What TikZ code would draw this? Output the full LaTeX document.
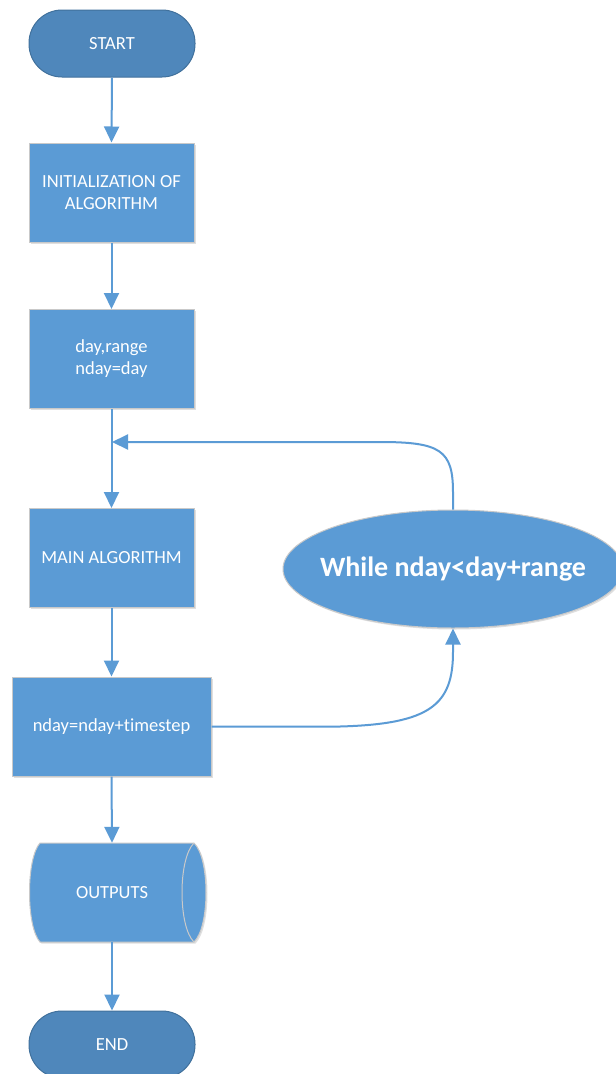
\documentclass[tikz,border=0pt]{standalone}
\usepackage{fontspec}
\setmainfont{Carlito}[Ligatures=NoCommon]
\usetikzlibrary{arrows.meta,shapes.geometric,shadows}
\definecolor{boxblue}{HTML}{5B9BD5}
\definecolor{termblue}{HTML}{4F87BB}
\definecolor{termedge}{HTML}{41719C}
\definecolor{edgegray}{HTML}{C9C9C9}
\begin{document}
\begin{tikzpicture}[x=1pt,y=-1pt,
  shad/.style={drop shadow={opacity=0.25,shadow xshift=1.5pt,shadow yshift=-1.5pt}},
  terminal/.style={rectangle, rounded corners=33pt, fill=termblue, draw=termedge, line width=1pt,
    minimum width=166pt, minimum height=67pt, text=white, font=\fontsize{18.5}{22}\selectfont},
  procbox/.style={rectangle, fill=boxblue, draw=edgegray, line width=1pt, shad,
    minimum width=165pt, minimum height=99pt, text=white, align=center,
    font=\fontsize{18.5}{22}\selectfont},
  conn/.style={draw=boxblue, line width=2pt, -{Triangle[width=15pt,length=16pt]}}
]
\useasboundingbox (0,0) rectangle (616,1074);
\clip (0,0) rectangle (616,1074);
\fill[white] (0,0) rectangle (616,1074);

\node[terminal] (start) at (112,43.5) {START};
\node[procbox] (init) at (111.5,192.5) {INITIALIZATION OF\\ALGORITHM};
\node[procbox] (input) at (111.5,359) {day,range\\nday=day};
\node[procbox] (main) at (111.5,558) {MAIN ALGORITHM};
\node[procbox, minimum width=199pt] (update) at (111.5,726.5) {nday=nday+timestep};

% stored data shape for OUTPUTS
\fill[gray,opacity=0.25] (41.5,844.5) -- (195.5,844.5) .. controls (211.5,860) and (211.5,928) .. (195.5,943.5)
  -- (41.5,943.5) .. controls (27.5,928) and (27.5,860) .. cycle;
\filldraw[fill=boxblue, draw=edgegray, line width=1pt] (40,843) -- (194,843)
  .. controls (210,858.5) and (210,926.5) .. (194,942)
  -- (40,942) .. controls (26,926.5) and (26,858.5) .. cycle;
\draw[edgegray, line width=1pt] (194,843) .. controls (178,858.5) and (178,926.5) .. (194,942);
\node[minimum width=176pt, minimum height=99pt, text=white, font=\fontsize{18.5}{22}\selectfont] (outputs) at (112,892.5) {OUTPUTS};

\node[terminal] (end) at (112,1044.5) {END};

\node[ellipse, fill=boxblue, draw=edgegray, line width=1pt, shad, inner xsep=-20pt, inner ysep=0pt,
  minimum width=340pt, minimum height=118pt,
  text=white, font=\fontsize{28}{32}\selectfont\bfseries] (while) at (453,569) {While nday<day+range};

\coordinate (loopin) at (112,442);

\draw[conn] (start.south) -- (init.north);
\draw[conn] (init.south) -- (input.north);
\draw[conn] (input.south) -- (main.north);
\draw[conn] (main.south) -- (update.north);
\draw[conn] (update.south) -- (outputs.north);
\draw[conn] (outputs.south) -- (end.north);

\draw[conn] (while.north) -- (453,492) .. controls (453,450) and (440,442) .. (380,442) -- (loopin);
\draw[conn] (update.east) -- (340,726.5) .. controls (430,724) and (453,705) .. (453,652) -- (while.south);
\end{tikzpicture}
\end{document}
